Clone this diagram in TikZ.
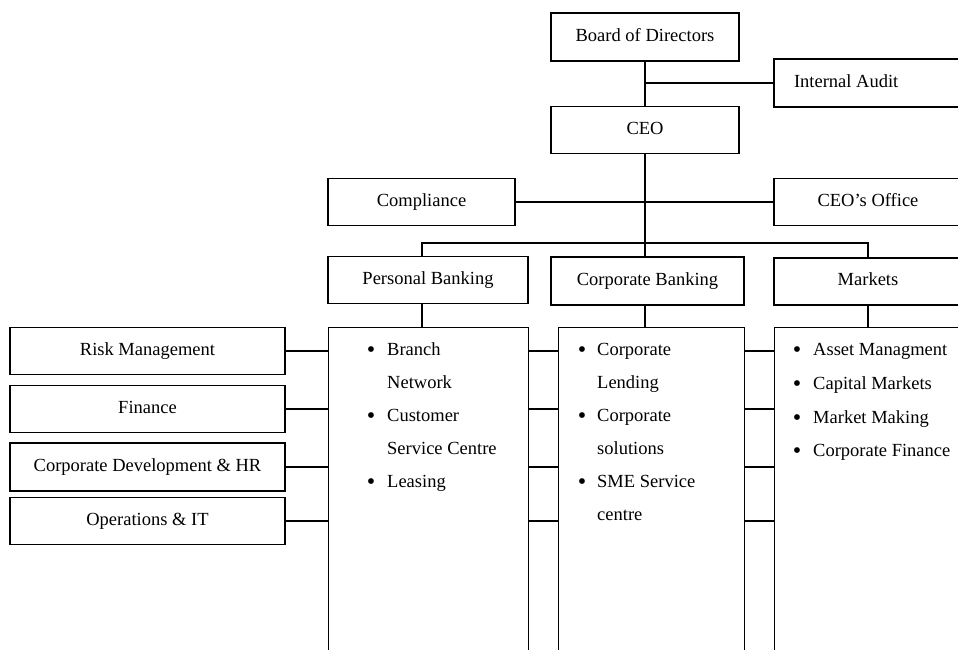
\documentclass[tikz,border=0pt]{standalone}
\usepackage{graphicx}
\usepackage{fontspec}
\setmainfont{Liberation Serif}
\begin{document}
\begin{tikzpicture}[x=1pt,y=-1pt,
  font=\fontsize{18.5}{22}\selectfont,
  box/.style={draw, line width=1.1pt, inner sep=0pt, text height=13.3pt, text depth=4.5pt},
  listbox/.style={draw, line width=1.1pt, inner sep=0pt, anchor=north west, minimum height=333},
  wire/.style={line width=1.8pt},
  li/.style={anchor=base west, inner sep=0pt},
  bul/.style={anchor=base, inner sep=0pt}]
\useasboundingbox (0,0) rectangle (958,649);
\clip (0,0) rectangle (958,649);

% top boxes
\node[box, minimum width=188, minimum height=48] (board) at (645,37) {Board of Directors};
\node[box, minimum width=188, minimum height=48, text width=148pt, align=flush left, inner xsep=20pt] (audit) at (868,83) {Internal Audit};
\node[box, minimum width=188, minimum height=47] (ceo) at (645,130) {CEO};
\node[box, minimum width=187, minimum height=47] (compl) at (421.5,202) {Compliance};
\node[box, minimum width=188, minimum height=47] (office) at (868,202) {CEO’s Office};
\node[box, minimum width=200, minimum height=47] (pb) at (428,280) {Personal Banking};
\node[box, minimum width=193, minimum height=48] (cb) at (647.5,281) {Corporate Banking};
\node[box, minimum width=188, minimum height=47] (mk) at (868,281.5) {Markets};

% list boxes
\node[listbox, minimum width=200] (pbl) at (328,327) {};
\node[listbox, minimum width=186] (cbl) at (558,327) {};
\node[listbox, minimum width=188] (mkl) at (774,327) {};

% left boxes
\node[box, minimum width=275, minimum height=47] (risk) at (147.5,351) {Risk Management};
\node[box, minimum width=275, minimum height=47] (fin) at (147.5,409) {Finance};
\node[box, minimum width=275, minimum height=48] (cdh) at (147.5,467) {Corporate Development \& HR};
\node[box, minimum width=275, minimum height=47] (ops) at (147.5,521) {Operations \& IT};

% connectors
\draw[wire] (board.south) -- (ceo.north);
\draw[wire] (board.south |- audit.west) -- (audit.west);
\draw[wire] (ceo.south) -- (ceo.south |- cb.north);
\draw[wire] (compl.east) -- (office.west);
\coordinate (busL) at (422,243);
\coordinate (busR) at (mk.north |- busL);
\draw[wire] (busL |- pb.north) -- (busL) -- (busR) -- (mk.north);
\draw[wire] (busL |- pb.south) -- (busL |- pbl.north);
\draw[wire] (ceo.south |- cb.south) -- (ceo.south |- cbl.north);
\draw[wire] (mk.south) -- (mk.south |- mkl.north);
\foreach \n in {risk,fin,cdh,ops}{
  \draw[wire] (\n.east) -- (\n.east -| pbl.west);
  \draw[wire] (\n.east -| pbl.east) -- (\n.east -| cbl.west);
  \draw[wire] (\n.east -| cbl.east) -- (\n.east -| mkl.west);
}

\newcommand{\bigbul}{\raisebox{-2.3pt}{\scalebox{1.3}{\textbullet}}}

% Personal Banking list
\node[bul] (pb1) at (371,355) {\bigbul};
\node[li] (pbt1) at (387,355) {Branch};
\node[li] (pbt2) at (387,388) {Network};
\node[bul] (pb2) at (371,421) {\bigbul};
\node[li] (pbt3) at (387,421) {Customer};
\node[li] (pbt4) at (387,454) {Service Centre};
\node[bul] (pb3) at (371,487) {\bigbul};
\node[li] (pbt5) at (387,487) {Leasing};

% Corporate Banking list
\node[bul] (cb1) at (582,355) {\bigbul};
\node[li] (cbt1) at (597,355) {Corporate};
\node[li] (cbt2) at (597,388) {Lending};
\node[bul] (cb2) at (582,421) {\bigbul};
\node[li] (cbt3) at (597,421) {Corporate};
\node[li] (cbt4) at (597,454) {solutions};
\node[bul] (cb3) at (582,487) {\bigbul};
\node[li] (cbt5) at (597,487) {SME Service};
\node[li] (cbt6) at (597,520) {centre};

% Markets list
\node[bul] (mk1) at (797,355) {\bigbul};
\node[li] (mkt1) at (813,355) {Asset Managment};
\node[bul] (mk2) at (797,389) {\bigbul};
\node[li] (mkt2) at (813,389) {Capital Markets};
\node[bul] (mk3) at (797,423) {\bigbul};
\node[li] (mkt3) at (813,423) {Market Making};
\node[bul] (mk4) at (797,456) {\bigbul};
\node[li] (mkt4) at (813,456) {Corporate Finance};
\end{tikzpicture}
\end{document}
